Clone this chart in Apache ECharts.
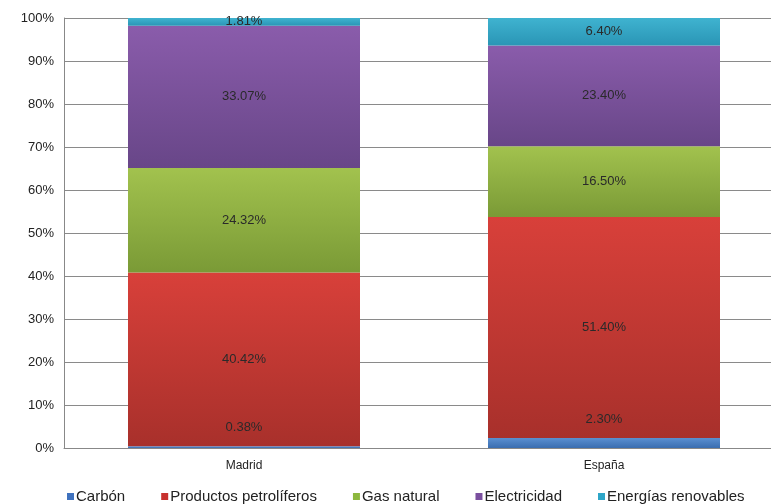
<!DOCTYPE html>
<html>
<head>
<meta charset="utf-8">
<script src="https://cdn.jsdelivr.net/npm/echarts@6/dist/echarts.min.js"></script>
<style>html,body{margin:0;padding:0;background:#fff}#c{width:771px;height:504px}</style>
</head>
<body>
<div id="c"></div>
<script>
var categories = ['Madrid', 'España'];
var seriesNames = ['Carbón', 'Productos petrolíferos', 'Gas natural', 'Electricidad', 'Energías renovables'];
var carbon = [0.38, 2.30];
var petroleo = [40.42, 51.40];
var gas = [24.32, 16.50];
var electricidad = [33.07, 23.40];
var renovables = [1.81, 6.40];
var yTicks = [0, 10, 20, 30, 40, 50, 60, 70, 80, 90, 100];

var colors = [
  ['#5a8fd0', '#3a6db0'],
  ['#d8403a', '#a8302b'],
  ['#a2c24e', '#7a9a36'],
  ['#8a5cab', '#684688'],
  ['#3fb3d0', '#2a95b5']
];
var legendColors = ['#3f72be', '#c8312e', '#8db83e', '#7a4f9f', '#2ea6c8'];
var values = [carbon, petroleo, gas, electricidad, renovables];
var FONT = 'Liberation Sans, Arial, sans-serif';

var chart = echarts.init(document.getElementById('c'));
var series = seriesNames.map(function (n, i) {
  return {
    name: n,
    type: 'bar',
    stack: 'total',
    barWidth: 232,
    data: values[i],
    itemStyle: {
      color: new echarts.graphic.LinearGradient(0, 0, 0, 1, [
        {offset: 0, color: colors[i][0]},
        {offset: 1, color: colors[i][1]}
      ])
    },
    label: {
      show: true,
      position: i === 0 ? 'top' : 'inside',
      distance: i === 0 ? 12 : 5,
      formatter: function (p) { return p.value.toFixed(2) + '%'; },
      color: '#2a2a2a',
      fontFamily: FONT,
      fontSize: 13
    }
  };
});

chart.setOption({
  animation: false,
  color: legendColors,
  grid: {left: 64, top: 18, width: 720, height: 430, containLabel: false, outerBoundsMode: 'none'},
  legend: {
    data: seriesNames.map(function (n, i) {
      return {name: n, itemStyle: {color: legendColors[i]}};
    }),
    left: 62,
    top: 484,
    icon: 'rect',
    itemWidth: 7,
    itemHeight: 7,
    itemGap: 36,
    textStyle: {fontFamily: FONT, fontSize: 15, color: '#222', padding: [0, 0, 0, -3]}
  },
  xAxis: {
    type: 'category',
    data: categories,
    axisLine: {lineStyle: {color: '#888', width: 1}},
    axisTick: {show: false},
    axisLabel: {fontFamily: FONT, fontSize: 12, color: '#222', margin: 12}
  },
  yAxis: {
    type: 'value',
    min: 0,
    max: 100,
    interval: 10,
    axisLine: {show: true, lineStyle: {color: '#888'}},
    axisTick: {show: false},
    splitLine: {lineStyle: {color: '#8a8a8a', width: 1}},
    axisLabel: {
      fontFamily: FONT,
      fontSize: 13,
      color: '#222',
      margin: 10,
      formatter: function (v) { return yTicks.indexOf(v) >= 0 ? v + '%' : ''; }
    }
  },
  series: series
});
</script>
</body>
</html>
